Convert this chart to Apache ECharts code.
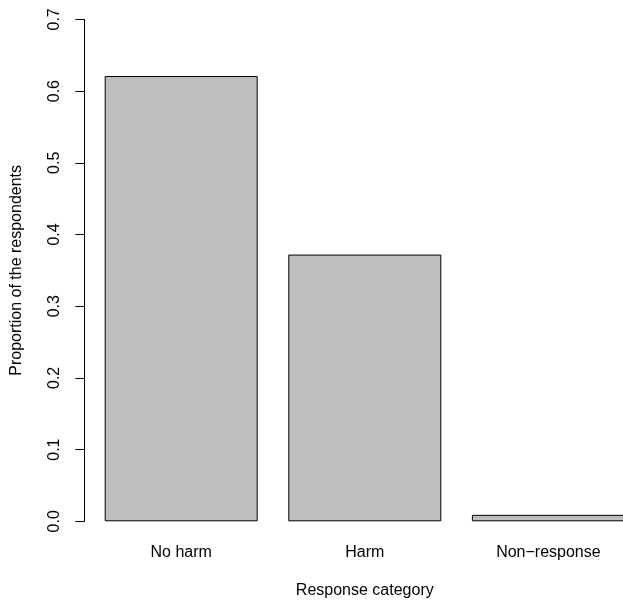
<!DOCTYPE html>
<html>
<head>
<meta charset="utf-8">
<script src="https://cdn.jsdelivr.net/npm/echarts@6/dist/echarts.min.js"></script>
<style>html,body{margin:0;padding:0;background:#fff;}#c{width:623px;height:601px;}</style>
</head>
<body>
<div id="c"></div>
<script>
var categories = ['No harm', 'Harm', 'Non\u2212response'];
var proportions = [0.621, 0.372, 0.009];
var yTicks = [0, 0.1, 0.2, 0.3, 0.4, 0.5, 0.6, 0.7];

var chart = echarts.init(document.getElementById('c'), null, {renderer: 'canvas'});
var font = 'Liberation Sans, Arial, Helvetica, sans-serif';
chart.setOption({
  animation: false,
  backgroundColor: '#ffffff',
  grid: {left: 89.4, top: 19.4, width: 550.8, height: 501.9, containLabel: false, outerBoundsMode: 'none'},
  xAxis: {
    type: 'category',
    data: categories,
    boundaryGap: true,
    axisLine: {show: false},
    axisTick: {show: false},
    axisLabel: {color: '#000', fontSize: 16, fontFamily: font, margin: 23, lineHeight: 16, interval: 0},
    name: 'Response category',
    nameLocation: 'middle',
    nameGap: 61,
    nameTextStyle: {color: '#000', fontSize: 16, fontFamily: font, lineHeight: 16}
  },
  yAxis: {
    type: 'value',
    min: 0,
    max: 0.7,
    interval: 0.1,
    offset: 5,
    axisLine: {show: true, lineStyle: {color: '#000', width: 1}},
    axisTick: {show: true, length: 9, lineStyle: {color: '#000', width: 1}},
    splitLine: {show: false},
    axisLabel: {
      color: '#000', fontSize: 16, fontFamily: font, rotate: 90, margin: 22, lineHeight: 16,
      formatter: function (v) { return v.toFixed(1); }
    },
    name: 'Proportion of the respondents',
    nameLocation: 'middle',
    nameGap: 60,
    nameTextStyle: {color: '#000', fontSize: 16, fontFamily: font, lineHeight: 16}
  },
  series: [{
    type: 'bar',
    data: proportions,
    barWidth: 153,
    itemStyle: {color: '#bebebe', borderColor: '#000', borderWidth: 1},
    silent: true
  }]
});
</script>
</body>
</html>
